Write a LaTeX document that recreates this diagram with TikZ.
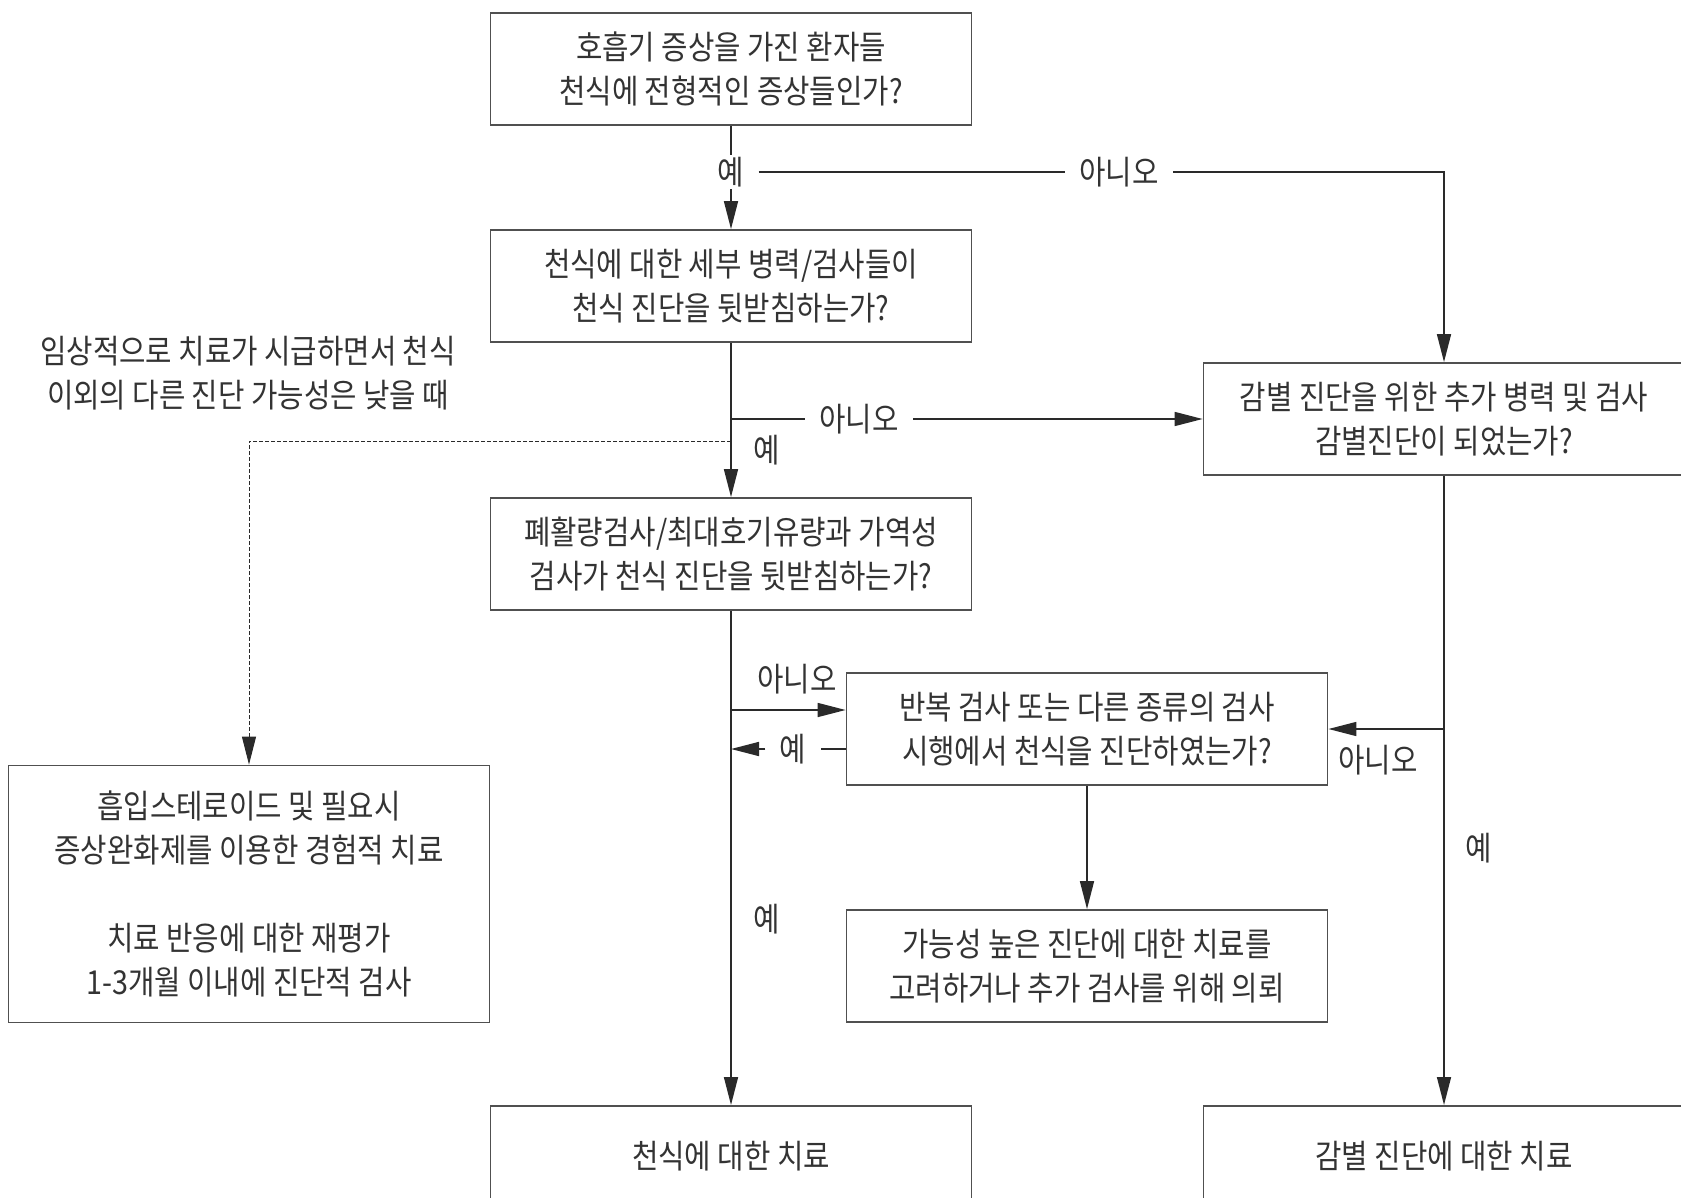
\documentclass[tikz,border=0pt]{standalone}
\usepackage{fontspec}
\setmainfont{Noto Sans CJK KR}[FakeStretch=0.87]
\usetikzlibrary{arrows.meta}

\definecolor{boxgray}{HTML}{505050}
\definecolor{linegray}{HTML}{2A2A2A}
\definecolor{textgray}{HTML}{333333}

\tikzset{
  box/.style={draw=boxgray, line width=0.9pt, minimum width=240.5pt,
    minimum height=56pt, align=center, inner sep=0pt, text=textgray},
  note/.style={align=center, text=textgray, inner sep=0pt},
  lbl/.style={fill=white, text=textgray, inner xsep=7pt, inner ysep=1pt},
  conn/.style={draw=linegray, line width=0.8pt},
  arrow/.style={conn, -{Triangle[length=14pt, width=7pt]}},
  dline/.style={draw=linegray, line width=0.5pt, dash pattern=on 2pt off 1pt,
    -{Triangle[length=14pt, width=7pt]}}
}

\begin{document}
\begin{tikzpicture}[x=0.5pt, y=-0.5pt, font=\fontsize{16.5pt}{22pt}\selectfont]
\useasboundingbox (0,0) rectangle (1681,1198);
\clip (0,0) rectangle (1681,1198);

% boxes
\node[box] (symptoms) at (731,69) {호흡기 증상을 가진 환자들\\천식에 전형적인 증상들인가?};
\node[box] (history) at (731,286) {천식에 대한 세부 병력/검사들이\\천식 진단을 뒷받침하는가?};
\node[box] (spiro) at (731,554) {폐활량검사/최대호기유량과 가역성\\검사가 천식 진단을 뒷받침하는가?};
\node[box] (differ) at (1444,419) {감별 진단을 위한 추가 병력 및 검사\\감별진단이 되었는가?};
\node[box] (retest) at (1087,729) {반복 검사 또는 다른 종류의 검사\\시행에서 천식을 진단하였는가?};
\node[box] (likely) at (1087,966) {가능성 높은 진단에 대한 치료를\\고려하거나 추가 검사를 위해 의뢰};
\node[box, minimum height=128.5pt] (empiric) at (249,894)
  {흡입스테로이드 및 필요시\\증상완화제를 이용한 경험적 치료\\[22pt]치료 반응에 대한 재평가\\1-3개월 이내에 진단적 검사};
\node[box, anchor=north, minimum height=50pt] (asthmatx) at (731,1105) {천식에 대한 치료};
\node[box, anchor=north, minimum height=50pt] (differtx) at (1444,1105) {감별 진단에 대한 치료};
\node[note] (urgent) at (248,373) {임상적으로 치료가 시급하면서 천식\\이외의 다른 진단 가능성은 낮을 때};

% first question
\node[lbl] (yes1) at (731,172) {예};
\node[lbl] (no1) at (1119,172) {아니오};
\draw[conn] (symptoms) -- (yes1);
\draw[arrow] (yes1) -- (history);
\draw[conn] (yes1) -- (no1);
\draw[arrow] (no1) -| (differ);

% second question
\coordinate (split2) at (history.south |- differ.west);
\coordinate (split3) at (731,441);
\node[lbl] (no2) at (859,419) {아니오};
\draw[arrow] (history) -- (spiro);
\draw[conn] (split2) -- (no2);
\draw[arrow] (no2) -- (differ);
\draw[dline] (split3) -| (empiric);
\node[lbl] (yes2) at (767,450) {예};

% third question
\coordinate (split4) at (731,710);
\draw[arrow] (spiro) -- (asthmatx);
\draw[arrow] (split4) -- (split4 -| retest.west);
\node[note] (no3) at (797,679) {아니오};
\node[lbl] (yes3) at (767,919) {예};
\node[lbl] (yes4) at (793,749) {예};
\draw[conn] (retest.west |- yes4) -- (yes4);
\draw[arrow] (yes4) -- (yes4 -| spiro.south);
\draw[arrow] (retest) -- (likely);

% differential
\coordinate (split5) at (differ.south |- retest.east);
\draw[arrow] (differ) -- (differtx);
\draw[arrow] (split5) -- (retest.east);
\node[note] (no5) at (1378,760) {아니오};
\node[note] (yes5) at (1479,848) {예};
\end{tikzpicture}
\end{document}
